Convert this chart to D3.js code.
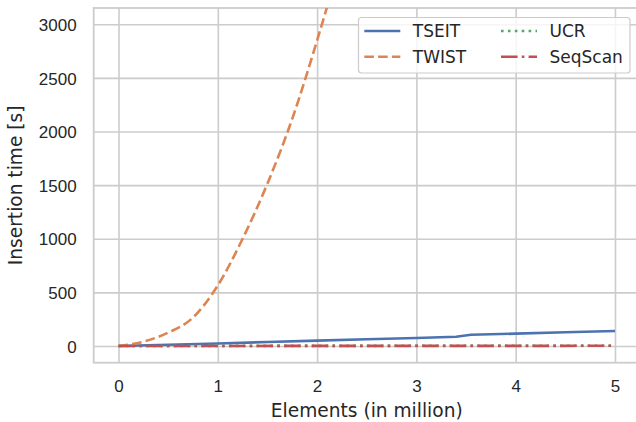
<!DOCTYPE html>
<html>
<head>
<meta charset="utf-8">
<script src="https://cdn.jsdelivr.net/npm/d3@7"></script>
<style>
  body { margin: 0; background: #fff; }
  svg { display: block; font-family: "DejaVu Sans", sans-serif; }
  .tick text { fill: #262626; font-size: 17px; }
</style>
</head>
<body>
<svg width="636" height="422"></svg>
<script>
// insertion time [s] per number of elements (in million)
var xs = [0, 0.5, 1, 1.5, 2, 2.5, 3, 3.4, 3.55, 4, 4.5, 5];
var tseit = [0, 11, 23, 37, 50, 62, 75, 86, 104, 115, 128, 140];

var twistX = [0, 0.25, 0.5, 0.75, 1, 1.25, 1.5, 1.75, 2, 2.25, 2.5];
var twist = [0, 40, 125, 265, 565, 1000, 1515, 2120, 2850, 3650, 4500];

var simpleX = [0, 1, 2, 3, 4, 5];
var ucr = [0, 0.5, 1, 1.5, 2, 2.5];
var seqScan = [0, 0.3, 0.6, 0.9, 1.2, 1.5];

var xTicks = [0, 1, 2, 3, 4, 5];
var yTicks = [0, 500, 1000, 1500, 2000, 2500, 3000];

var svg = d3.select('svg');
var plot = {l: 93.7, r: 639.8, t: 8, b: 362.7};
var gridColor = '#cccccc';
var textColor = '#262626';
var lw = 2.6;

var x = d3.scaleLinear().domain([-0.25, 5.25]).range([plot.l, plot.r]);
var y = d3.scaleLinear().domain([-156, 3152]).range([plot.b, plot.t]);

svg.append('defs').append('clipPath').attr('id', 'clip')
    .append('rect')
    .attr('x', plot.l).attr('y', plot.t)
    .attr('width', plot.r - plot.l).attr('height', plot.b - plot.t);

// grid + ticks
var xAxis = d3.axisBottom(x).tickValues(xTicks).tickSize(-(plot.b - plot.t)).tickPadding(17)
    .tickFormat(d3.format('d'));
var yAxis = d3.axisLeft(y).tickValues(yTicks).tickSize(-(plot.r - plot.l)).tickPadding(17)
    .tickFormat(d3.format('d'));

var gx = svg.append('g').attr('transform', 'translate(0,' + plot.b + ')').call(xAxis);
var gy = svg.append('g').attr('transform', 'translate(' + plot.l + ',0)').call(yAxis);
[gx, gy].forEach(function(g) {
    g.select('.domain').remove();
    g.selectAll('.tick line').attr('stroke', gridColor).attr('stroke-width', 1.6);
});
gx.selectAll('.tick text').attr('dy', '0.71em').attr('y', 17.5);
gy.selectAll('.tick text').attr('x', -17).attr('dy', '0.36em');

// spines
svg.append('rect')
    .attr('x', plot.l).attr('y', plot.t)
    .attr('width', plot.r - plot.l).attr('height', plot.b - plot.t)
    .attr('fill', 'none').attr('stroke', gridColor).attr('stroke-width', 1.8);

// axis labels
svg.append('text')
    .attr('x', (plot.l + plot.r) / 2).attr('y', 417)
    .attr('text-anchor', 'middle').attr('fill', textColor)
    .style('font-size', '18.6px')
    .text('Elements (in million)');
svg.append('text')
    .attr('transform', 'translate(' + 22 + ',' + (plot.t + plot.b) / 2 + ') rotate(-90)')
    .attr('text-anchor', 'middle').attr('fill', textColor)
    .style('font-size', '18.6px')
    .text('Insertion time [s]');

var series = [
    {name: 'TSEIT', xv: xs, yv: tseit, color: '#4c72b0', dash: null, curve: d3.curveLinear},
    {name: 'TWIST', xv: twistX, yv: twist, color: '#dd8452', dash: '9.6,4.2', curve: d3.curveMonotoneX},
    {name: 'UCR', xv: simpleX, yv: ucr, color: '#55a868', dash: '2.6,4.3', curve: d3.curveLinear},
    {name: 'SeqScan', xv: simpleX, yv: seqScan, color: '#c44e52', dash: '16.6,4.2,2.6,4.2', curve: d3.curveLinear}
];

var linesG = svg.append('g').attr('clip-path', 'url(#clip)');
series.forEach(function(s) {
    var pts = s.xv.map(function(v, i) { return [v, s.yv[i]]; });
    var line = d3.line()
        .curve(s.curve)
        .x(function(d) { return x(d[0]); })
        .y(function(d) { return y(d[1]); });
    linesG.append('path')
        .datum(pts)
        .attr('d', line)
        .attr('fill', 'none')
        .attr('stroke', s.color)
        .attr('stroke-width', lw)
        .attr('stroke-dasharray', s.dash)
        .attr('stroke-linecap', 'butt');
});

// legend
var leg = svg.append('g');
leg.append('rect')
    .attr('x', 358.5).attr('y', 17.5).attr('width', 271.5).attr('height', 55.5)
    .attr('rx', 3).attr('fill', 'white').attr('fill-opacity', 0.8)
    .attr('stroke', gridColor).attr('stroke-width', 1.2);

var legPos = [[364.3, 31], [364.3, 56.7], [501, 31], [501, 56.7]];
series.forEach(function(s, i) {
    var p = legPos[i];
    leg.append('line')
        .attr('x1', p[0]).attr('x2', p[0] + 36)
        .attr('y1', p[1]).attr('y2', p[1])
        .attr('stroke', s.color).attr('stroke-width', lw)
        .attr('stroke-dasharray', s.dash);
    leg.append('text')
        .attr('x', p[0] + 48.5).attr('y', p[1])
        .attr('dy', '0.36em').attr('fill', textColor)
        .style('font-size', '17px')
        .text(s.name);
});
</script>
</body>
</html>
